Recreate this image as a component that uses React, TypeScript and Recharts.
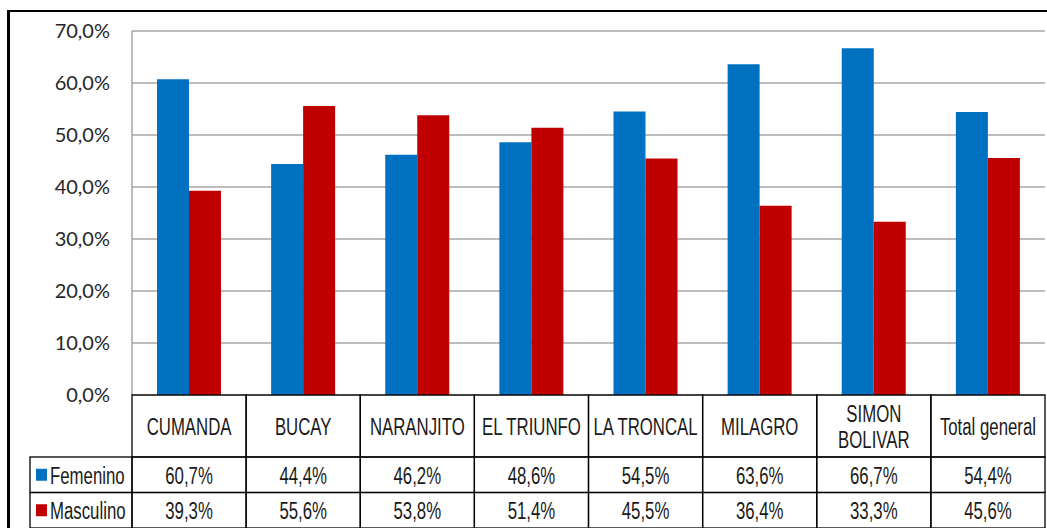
import React from 'react';
import { BarChart, Bar, XAxis, YAxis, CartesianGrid } from 'recharts';

const categories = ['CUMANDA', 'BUCAY', 'NARANJITO', 'EL TRIUNFO', 'LA TRONCAL', 'MILAGRO', 'SIMON BOLIVAR', 'Total general'];
const categoryLines = [['CUMANDA'], ['BUCAY'], ['NARANJITO'], ['EL TRIUNFO'], ['LA TRONCAL'], ['MILAGRO'], ['SIMON', 'BOLIVAR'], ['Total general']];
const femenino = [60.7, 44.4, 46.2, 48.6, 54.5, 63.6, 66.7, 54.4];
const masculino = [39.3, 55.6, 53.8, 51.4, 45.5, 36.4, 33.3, 45.6];
const seriesNames = ['Femenino', 'Masculino'];
const seriesColors = ['#0070C0', '#C00000'];
const yTicks = [0, 10, 20, 30, 40, 50, 60, 70];

const data = categories.map((c, i) => ({ name: c, Femenino: femenino[i], Masculino: masculino[i] }));
const seriesValues = [femenino, masculino];

const W = 1047;
const H = 528;
const M = { top: 31, right: 2, left: 0, bottom: 0 };
const Y_AXIS_W = 132;
const X_AXIS_H = 133;
const COL_W = (W - M.right - Y_AXIS_W) / categories.length;
const HEADER_H = 62;
const ROW_H = 35.5;
const LABEL_COL_W = 102;
const TABLE_FONT = '"Liberation Sans", Arial, sans-serif';
const TABLE_FS = 23;
const SQUEEZE = 0.73;

const fmt = (v: number) => v.toFixed(1).replace('.', ',') + '%';

const SqText = ({ x, y, children, anchor = 'middle' }: any) => (
  <text
    transform={`translate(${x},${y}) scale(${SQUEEZE},1)`}
    textAnchor={anchor}
    dominantBaseline="central"
    fontFamily={TABLE_FONT}
    fontSize={TABLE_FS}
    fill="#1a1a1a"
  >
    {children}
  </text>
);

const TableTick = (props: any) => {
  const { x, y, index } = props;
  const i = index ?? props.payload?.index ?? 0;
  const left = x - COL_W / 2;
  const lines = categoryLines[i];
  const headerMid = y + HEADER_H / 2;
  const lineGap = 26;
  return (
    <g>
      <rect x={left} y={y} width={COL_W} height={HEADER_H} fill="none" stroke="#000" strokeWidth={1.3} />
      {lines.map((ln, k) => (
        <SqText key={k} x={x} y={headerMid + (k - (lines.length - 1) / 2) * lineGap + 1}>
          {ln}
        </SqText>
      ))}
      {seriesValues.map((vals, r) => (
        <g key={r}>
          <rect x={left} y={y + HEADER_H + r * ROW_H} width={COL_W} height={ROW_H} fill="none" stroke="#000" strokeWidth={1.3} />
          <SqText x={x} y={y + HEADER_H + r * ROW_H + ROW_H / 2 + 1}>
            {fmt(vals[i])}
          </SqText>
        </g>
      ))}
      {i === 0 &&
        seriesNames.map((s, r) => {
          const ry = y + HEADER_H + r * ROW_H;
          const lx = left - LABEL_COL_W;
          return (
            <g key={s}>
              <rect x={lx} y={ry} width={LABEL_COL_W} height={ROW_H} fill="none" stroke="#000" strokeWidth={1.3} />
              <rect x={lx + 6} y={ry + ROW_H / 2 - 6} width={11} height={12} fill={seriesColors[r]} />
              <SqText x={lx + 20} y={ry + ROW_H / 2 + 1} anchor="start">
                {s}
              </SqText>
            </g>
          );
        })}
    </g>
  );
};

export default function App() {
  return (
    <div style={{ position: 'absolute', left: 0, top: 0, width: W, height: H, background: '#fff' }}>
      <div
        style={{
          position: 'absolute',
          left: 7,
          top: 10,
          width: W - 7,
          height: H - 10,
          borderTop: '2.5px solid #000',
          borderLeft: '3px solid #000',
          boxSizing: 'border-box',
        }}
      />
      <div style={{ position: 'absolute', left: 0, top: 0 }}>
        <BarChart width={W} height={H} data={data} margin={M} barCategoryGap={25} barGap={0}>
          <CartesianGrid vertical={false} stroke="#A6A6A6" strokeWidth={1.5} />
          <YAxis
            type="number"
            domain={[0, 70]}
            ticks={yTicks}
            width={Y_AXIS_W}
            tickSize={0}
            tickMargin={22}
            tickLine={false}
            axisLine={{ stroke: '#A6A6A6', strokeWidth: 1.5 }}
            tickFormatter={(v: number) => fmt(v)}
            tick={{ fontFamily: 'Lato, "Open Sans", sans-serif', fontSize: 20, fill: '#262626' }}
          />
          <XAxis
            dataKey="name"
            height={X_AXIS_H}
            interval={0}
            tickSize={0}
            tickMargin={0}
            tickLine={false}
            axisLine={false}
            tick={(p: any) => <TableTick {...p} />}
          />
          <Bar dataKey="Femenino" fill={seriesColors[0]} isAnimationActive={false} />
          <Bar dataKey="Masculino" fill={seriesColors[1]} isAnimationActive={false} />
        </BarChart>
      </div>
    </div>
  );
}
